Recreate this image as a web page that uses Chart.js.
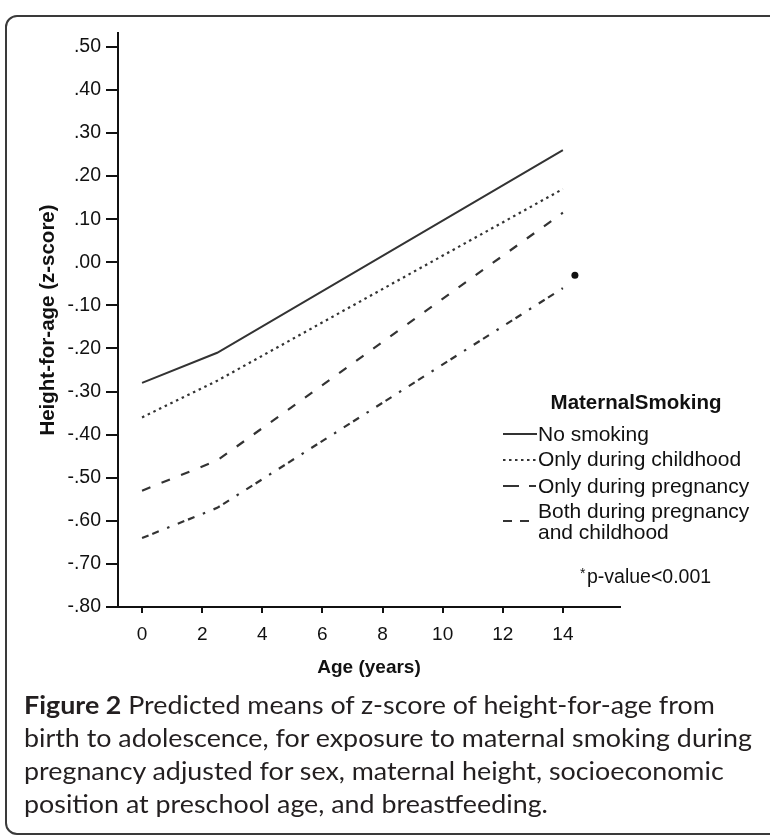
<!DOCTYPE html>
<html>
<head>
<meta charset="utf-8">
<script src="https://cdn.jsdelivr.net/npm/chart.js@4.4.0/dist/chart.umd.min.js"></script>
<style>
  body { margin: 0; background: #fff; }
  #quadro { position: relative; width: 770px; height: 839px; overflow: hidden; background: #fff; }
  #borda { position: absolute; left: 5px; top: 15px; width: 820px; height: 820px; border: 2px solid #3a3a3a; border-radius: 12px; box-sizing: border-box; }
  #grafico { position: absolute; left: 0; top: 0; }
  #rotulo { position: absolute; left: 24px; top: 688px; font-family: Lato, 'Open Sans', sans-serif; font-size: 25px; line-height: 33px; color: #231f20; white-space: nowrap; transform-origin: 0 0; }
  #rotulo b { font-weight: 700; }
</style>
</head>
<body>
<div id="quadro">
  <div id="borda"></div>
  <canvas id="grafico" width="770" height="700"></canvas>
  <div id="rotulo">
    <span class="linha"><b>Figure 2</b> Predicted means of z-score of height-for-age from</span><br>
    <span class="linha">birth to adolescence, for exposure to maternal smoking during</span><br>
    <span class="linha">pregnancy adjusted for sex, maternal height, socioeconomic</span><br>
    <span class="linha">position at preschool age, and breastfeeding.</span>
  </div>
</div>
<script>
// dados (idade em anos x z-score)
var idades = [0, 2.5, 14];
var semFumo = [-0.28, -0.21, 0.26];
var soInfancia = [-0.36, -0.275, 0.17];
var soGestacao = [-0.53, -0.46, 0.115];
var ambos = [-0.64, -0.57, -0.06];
var marcaSig = [{ x: 14.4, y: -0.03 }];

var nomesSeries = ['No smoking', 'Only during childhood', 'Only during pregnancy', 'Both during pregnancy', 'and childhood'];
var tituloLegenda = 'MaternalSmoking';
var notaP = 'p-value<0.001';

var yTicks = [-0.8, -0.7, -0.6, -0.5, -0.4, -0.3, -0.2, -0.1, 0, 0.1, 0.2, 0.3, 0.4, 0.5];
var yLabels = ['-.80', '-.70', '-.60', '-.50', '-.40', '-.30', '-.20', '-.10', '.00', '.10', '.20', '.30', '.40', '.50'];
var xTicks = [0, 2, 4, 6, 8, 10, 12, 14];

function pares(valores) {
    var lista = [];
    for (var i = 0; i < idades.length; i++) {
        lista.push({ x: idades[i], y: valores[i] });
    }
    return lista;
}

var corLinha = '#333';
var fonteEixo = '"Liberation Sans", Arial, sans-serif';

// legenda desenhada à mão, igual ao SPSS
var legendaPlugin = {
    id: 'legendaSmoking',
    afterDraw: function (chart) {
        var ctx = chart.ctx;
        ctx.save();
        ctx.fillStyle = '#111';
        ctx.textBaseline = 'middle';

        ctx.font = 'bold 20.5px ' + fonteEixo;
        ctx.textAlign = 'center';
        ctx.fillText(tituloLegenda, 636, 403);

        ctx.font = '21px ' + fonteEixo;
        ctx.textAlign = 'left';
        var linhasY = [435, 460, 487, 512, 533];
        for (var i = 0; i < nomesSeries.length; i++) {
            ctx.fillText(nomesSeries[i], 538, linhasY[i]);
        }

        ctx.strokeStyle = corLinha;
        ctx.lineWidth = 2;
        // amostras
        var amostras = [
            { y: 434, dash: [], x2: 537 },
            { y: 460, dash: [2.5, 3.5], x2: 536 },
            { y: 486, dash: [16, 10, 7, 10], x2: 536 },
            { y: 521, dash: [9, 8], x2: 530 }
        ];
        amostras.forEach(function (a) {
            ctx.setLineDash(a.dash);
            ctx.beginPath();
            ctx.moveTo(503, a.y);
            ctx.lineTo(a.x2, a.y);
            ctx.stroke();
        });
        ctx.setLineDash([]);

        ctx.font = '14px ' + fonteEixo;
        ctx.fillText('*', 580, 574);
        ctx.font = '19.5px ' + fonteEixo;
        ctx.fillText(notaP, 587, 578);
        ctx.restore();
    }
};

var dados = {
    datasets: [
        {
            label: nomesSeries[0],
            data: pares(semFumo),
            showLine: true,
            borderColor: corLinha,
            borderWidth: 2,
            pointRadius: 0
        },
        {
            label: nomesSeries[1],
            data: pares(soInfancia),
            showLine: true,
            borderColor: corLinha,
            borderWidth: 2.2,
            borderDash: [2.5, 3.8],
            pointRadius: 0
        },
        {
            label: nomesSeries[2],
            data: pares(soGestacao),
            showLine: true,
            borderColor: corLinha,
            borderWidth: 2.2,
            borderDash: [9, 12],
            pointRadius: 0
        },
        {
            label: nomesSeries[3],
            data: pares(ambos),
            showLine: true,
            borderColor: corLinha,
            borderWidth: 2.2,
            borderDash: [7, 4, 7, 9, 2.5, 9],
            pointRadius: 0
        },
        {
            label: 'sig',
            data: marcaSig,
            showLine: false,
            pointRadius: 3.5,
            pointBackgroundColor: '#111',
            pointBorderWidth: 0
        }
    ]
};

var config = {
    type: 'scatter',
    data: dados,
    plugins: [legendaPlugin],
    options: {
        responsive: false,
        animation: false,
        layout: { padding: { top: 33, right: 150, left: 0, bottom: 0 } },
        plugins: {
            legend: { display: false },
            tooltip: { enabled: false }
        },
        scales: {
            x: {
                type: 'linear',
                min: -0.8,
                max: 15.9,
                afterFit: function (escala) { escala.height = 93; },
                afterBuildTicks: function (escala) {
                    escala.ticks = xTicks.map(function (v) { return { value: v }; });
                },
                ticks: {
                    autoSkip: false,
                    maxRotation: 0,
                    padding: 10,
                    color: '#111',
                    font: { family: fonteEixo, size: 19 },
                    callback: function (v) { return String(v); }
                },
                grid: { drawOnChartArea: false, drawTicks: true, tickLength: 6, color: '#111', lineWidth: 2 },
                border: { display: true, color: '#111', width: 2 },
                title: {
                    display: true,
                    text: 'Age (years)',
                    color: '#111',
                    font: { family: fonteEixo, size: 19, weight: 'bold' },
                    padding: { top: 0, bottom: 21 }
                }
            },
            y: {
                min: -0.8,
                max: 0.532,
                afterFit: function (escala) { escala.width = 118; },
                afterBuildTicks: function (escala) {
                    escala.ticks = yTicks.map(function (v) { return { value: v }; });
                },
                ticks: {
                    autoSkip: false,
                    padding: 5,
                    color: '#111',
                    font: { family: fonteEixo, size: 19.5 },
                    callback: function (v) { return yLabels[yTicks.indexOf(v)]; }
                },
                grid: { drawOnChartArea: false, drawTicks: true, tickLength: 12, color: '#111', lineWidth: 2 },
                border: { display: true, color: '#111', width: 2 },
                title: {
                    display: true,
                    text: 'Height-for-age (z-score)',
                    color: '#111',
                    font: { family: fonteEixo, size: 20.5, weight: 'bold' },
                    padding: { top: 36, bottom: 0 }
                }
            }
        }
    }
};

var meuGrafico = new Chart(document.getElementById('grafico'), config);

// aperta a legenda da figura pra caber na largura do original
var linhas = document.querySelectorAll('#rotulo .linha');
var largura = linhas[1].getBoundingClientRect().width;
document.getElementById('rotulo').style.transform = 'scaleX(' + (728 / largura) + ')';
</script>
</body>
</html>
